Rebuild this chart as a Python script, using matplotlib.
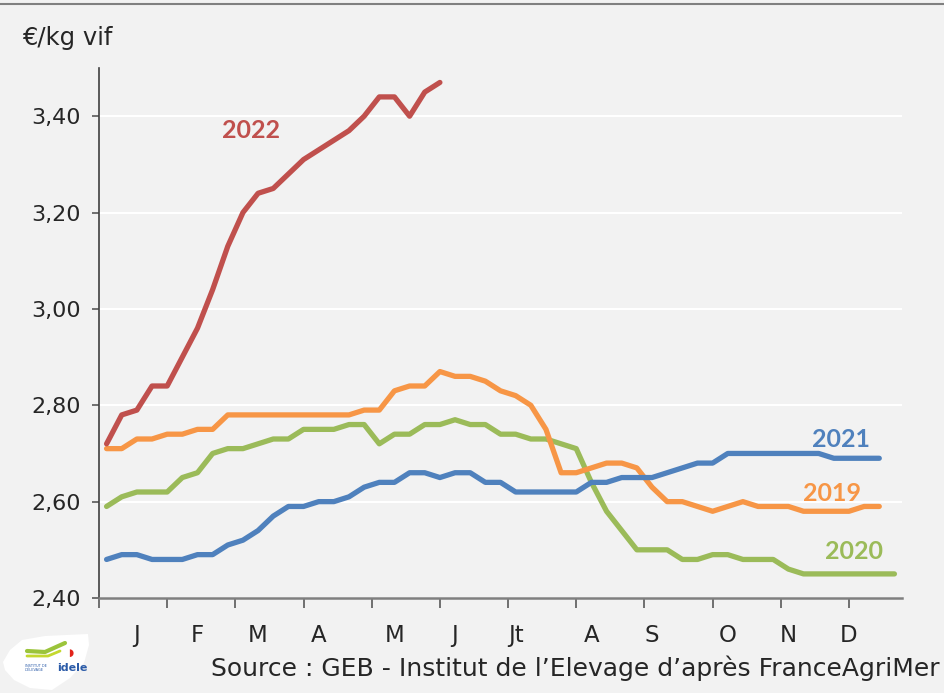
import matplotlib
matplotlib.use("Agg")
import matplotlib.pyplot as plt
from matplotlib.patches import Polygon
from matplotlib.lines import Line2D

plt.rcParams['font.family'] = ['DejaVu Sans']

# weekly prices, euro / kg vif
prix_2022 = [2.72, 2.78, 2.79, 2.84, 2.84, 2.90, 2.96, 3.04, 3.13, 3.20,
             3.24, 3.25, 3.28, 3.31, 3.33, 3.35, 3.37, 3.40, 3.44, 3.44,
             3.40, 3.45, 3.47]
prix_2021 = [2.48, 2.49, 2.49, 2.48, 2.48, 2.48, 2.49, 2.49, 2.51, 2.52,
             2.54, 2.57, 2.59, 2.59, 2.60, 2.60, 2.61, 2.63, 2.64, 2.64,
             2.66, 2.66, 2.65, 2.66, 2.66, 2.64, 2.64, 2.62, 2.62, 2.62,
             2.62, 2.62, 2.64, 2.64, 2.65, 2.65, 2.65, 2.66, 2.67, 2.68,
             2.68, 2.70, 2.70, 2.70, 2.70, 2.70, 2.70, 2.70, 2.69, 2.69,
             2.69, 2.69]
prix_2019 = [2.71, 2.71, 2.73, 2.73, 2.74, 2.74, 2.75, 2.75, 2.78, 2.78,
             2.78, 2.78, 2.78, 2.78, 2.78, 2.78, 2.78, 2.79, 2.79, 2.83,
             2.84, 2.84, 2.87, 2.86, 2.86, 2.85, 2.83, 2.82, 2.80, 2.75,
             2.66, 2.66, 2.67, 2.68, 2.68, 2.67, 2.63, 2.60, 2.60, 2.59,
             2.58, 2.59, 2.60, 2.59, 2.59, 2.59, 2.58, 2.58, 2.58, 2.58,
             2.59, 2.59]
prix_2020 = [2.59, 2.61, 2.62, 2.62, 2.62, 2.65, 2.66, 2.70, 2.71, 2.71,
             2.72, 2.73, 2.73, 2.75, 2.75, 2.75, 2.76, 2.76, 2.72, 2.74,
             2.74, 2.76, 2.76, 2.77, 2.76, 2.76, 2.74, 2.74, 2.73, 2.73,
             2.72, 2.71, 2.64, 2.58, 2.54, 2.50, 2.50, 2.50, 2.48, 2.48,
             2.49, 2.49, 2.48, 2.48, 2.48, 2.46, 2.45, 2.45, 2.45, 2.45,
             2.45, 2.45, 2.45]

mois = ['J', 'F', 'M', 'A', 'M', 'J', 'Jt', 'A', 'S', 'O', 'N', 'D']
mois_pos = [2, 6, 10, 14, 19, 23, 27, 32, 36, 41, 45, 49]
yticks = [2.40, 2.60, 2.80, 3.00, 3.20, 3.40]

c_2022 = '#C0504D'
c_2021 = '#4F81BD'
c_2019 = '#F79646'
c_2020 = '#9BBB59'
txt = '#262626'
bg = '#F2F2F2'

fig = plt.figure(figsize=(9.45, 6.93), dpi=100, facecolor=bg)
ax = fig.add_axes([99/945, 1 - 598/693, (902-99)/945, (598-68)/693])
ax.set_facecolor(bg)

lw = 3.8
for serie, col in [(prix_2020, c_2020), (prix_2019, c_2019),
                   (prix_2021, c_2021), (prix_2022, c_2022)]:
    ax.plot(range(len(serie)), serie, color=col, lw=lw,
            solid_joinstyle='round', solid_capstyle='round', zorder=3)

ax.set_xlim(-0.5, 52.5)
ax.set_ylim(2.40, 3.50)

ax.set_yticks(yticks)
ax.set_yticklabels([f'{v:.2f}'.replace('.', ',') for v in yticks])
ax.grid(axis='y', color='white', lw=1.5, zorder=1)
ax.set_axisbelow(True)

ax.xaxis.remove_overlapping_locs = False
ax.set_xticks([-0.5 + 4.5*k for k in range(12)])
ax.set_xticklabels([])
ax.set_xticks(mois_pos, minor=True)
ax.set_xticklabels(mois, minor=True)
ax.tick_params(axis='x', which='major', length=7, width=1.2, color='#595959')
ax.tick_params(axis='x', which='minor', length=0, pad=19, labelsize=16.5,
               labelcolor=txt)
ax.tick_params(axis='y', length=5, width=1.2, color='#595959',
               labelsize=16, labelcolor=txt, pad=8)

for s in ['top', 'right']:
    ax.spines[s].set_visible(False)
ax.spines['left'].set_color('#404040')
ax.spines['left'].set_linewidth(1.2)
ax.spines['bottom'].set_color('#7F7F7F')
ax.spines['bottom'].set_linewidth(1.8)

# series labels
lab = dict(fontsize=18, fontweight='bold', ha='center', va='center',
           family=['Lato', 'DejaVu Sans'])
ax.text(9.5, 3.37, '2022', color=c_2022, **lab)
ax.text(48.5, 2.728, '2021', color=c_2021, **lab)
ax.text(47.9, 2.616, '2019', color=c_2019, **lab)
ax.text(49.3, 2.497, '2020', color=c_2020, **lab)

fig.text(22/945, 1 - 38/693, '€/kg vif', fontsize=17.5, color=txt,
         ha='left', va='center')
fig.text(940/945, 1 - 668/693,
         'Source : GEB - Institut de l’Elevage d’après FranceAgriMer',
         fontsize=18, color=txt, ha='right', va='center')

# top frame line
fig.add_artist(Line2D([0, 1], [1 - 4/693, 1 - 4/693], color='#808080',
                      lw=1.5, transform=fig.transFigure))

# logo
blob = [(3, 662), (10, 650), (22, 640), (45, 636), (88, 634), (89, 645),
        (84, 663), (70, 678), (52, 690), (30, 688), (14, 680), (5, 670)]
fig.add_artist(Polygon([(x/945, 1 - y/693) for x, y in blob], closed=True,
                       facecolor='white', edgecolor='none',
                       transform=fig.transFigure))
fig.add_artist(Line2D([27/945, 45/945, 65/945], [1 - 651/693, 1 - 652/693, 1 - 643/693],
                      color='#9BC43B', lw=3, transform=fig.transFigure,
                      solid_capstyle='round'))
fig.add_artist(Line2D([27/945, 48/945, 60/945], [1 - 656/693, 1 - 656/693, 1 - 651/693],
                      color='#C4D82E', lw=2, transform=fig.transFigure,
                      solid_capstyle='round'))
fig.text(71/945, 1 - 653/693, '\u25D7', color='#E2231A', fontsize=7,
         ha='center', va='center')
fig.text(57/945, 1 - 668/693, 'idele', color='#2B5BA8', fontsize=8,
         fontweight='bold', ha='left', va='center')
fig.text(25/945, 1 - 668/693, 'INSTITUT DE\nL\'ÉLEVAGE', color='#2B5BA8',
         fontsize=2.5, ha='left', va='center', linespacing=1.0)

fig.savefig('out.png', dpi=100, facecolor=bg)
